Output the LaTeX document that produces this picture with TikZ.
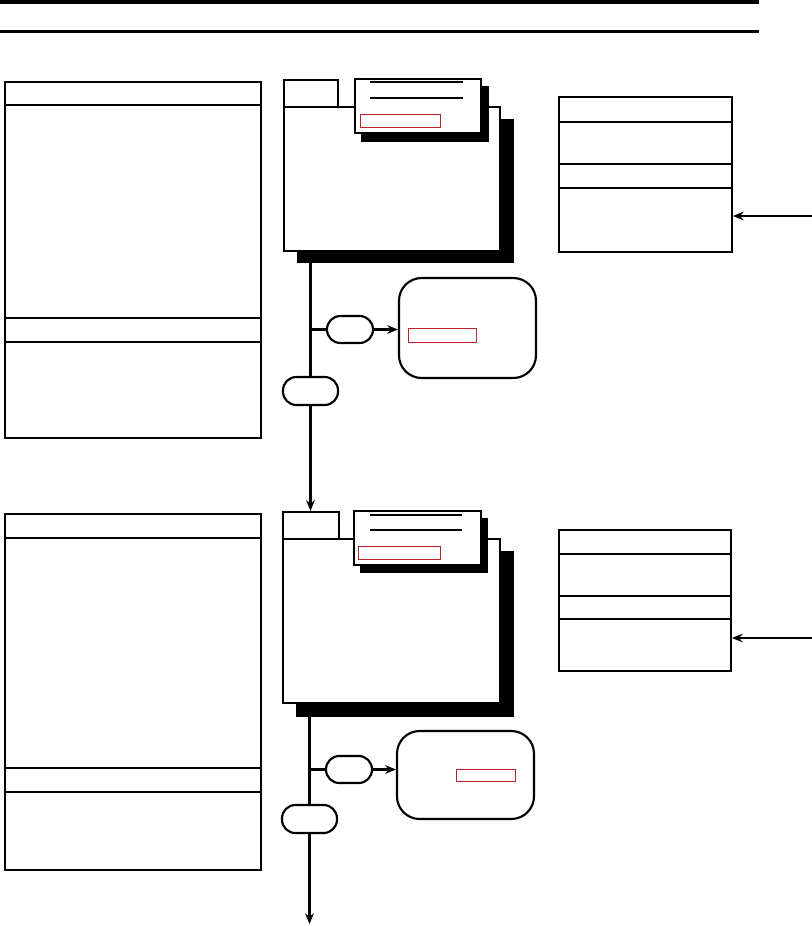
\documentclass[tikz,border=0pt]{standalone}
\usetikzlibrary{arrows.meta,positioning,fit}
\definecolor{ink}{HTML}{000000}
\definecolor{redmk}{HTML}{C0202A}
\tikzset{
  boxline/.style={draw=ink,line width=1.5pt},
  rulebar/.style={draw=ink,line width=2.6pt},
  drop/.style={fill=ink,inner sep=0pt},
  card/.style={draw=ink,fill=white,line width=1.6pt,inner sep=0pt},
  pill/.style={draw=ink,line width=1.6pt,rounded corners=10pt,inner sep=0pt},
  rbox/.style={draw=ink,line width=1.6pt,rounded corners=17pt,inner sep=0pt},
  redbox/.style={draw=redmk,line width=0.7pt},
  stem/.style={ink,line width=1.9pt},
  flow/.style={ink,line width=1.9pt,-{Stealth[length=8pt,width=6.5pt]}},
}
\begin{document}
\begin{tikzpicture}[x=0.75pt,y=-0.75pt]
  \useasboundingbox (0,0) rectangle (812,926);
  % ---------- header rules ----------
  \draw[rulebar] (0,2) -- (759,2);
  \draw[rulebar] (0,31.5) -- (759,31.5);

  % ---------- stage 1 ----------
  \begin{scope}
    % left sheet
    \draw[boxline] (5,82) rectangle (261,438);
    \foreach \y in {105,318,342} \draw[boxline] (5,\y) -- (261,\y);
    % folder
    \node[drop,fit={(297,119)(514,263)}] (sh1) {};
    \node[card,fit={(284,107)(500,251)}] (fb1) {};
    \node[card,fit={(284,80)(338,107)}] (tab1) {};
    \node[drop,fit={(361,86)(489,142)}] (csh1) {};
    \node[card,fit={(355,79)(481,133)}] (cd1) {};
    \draw[stem] (370,82) -- (463,82);
    \draw[stem] (370,98) -- (463,98);
    \draw[redbox] (360,114) rectangle (440,127);
    % branch
    \node[pill,fit={(327,316)(373,343)}] (pa1) {};
    \node[rbox,fit={(399,278)(536,378)}] (rb1) {};
    \draw[redbox] (408,328) rectangle (476,342);
    \node[pill,fit={(283,377)(338,405)}] (pb1) {};
    \coordinate (br1) at (pb1.north |- pa1.west);
    \draw[stem] (pb1.north |- sh1.south) -- (pb1.north);
    \draw[stem] (br1) -- (pa1.west);
    \draw[flow] (pa1.east) -- (pa1.east -| rb1.west);
    % right sheet
    \node[boxline,inner sep=0pt,fit={(559,97)(732,252)}] (rt1) {};
    \foreach \y in {122,164,188} \draw[boxline] (559,\y) -- (732,\y);
    \coordinate (in1) at (812,216);
    \draw[flow] (in1) -- (in1 -| rt1.east);
  \end{scope}

  % ---------- stage 2 ----------
  \begin{scope}
    % left sheet
    \draw[boxline] (5,514) rectangle (261,870);
    \foreach \y in {538,768,792} \draw[boxline] (5,\y) -- (261,\y);
    % folder
    \node[drop,fit={(296,551)(514,717)}] (sh2) {};
    \node[card,fit={(283,539)(500,703)}] (fb2) {};
    \node[card,fit={(283,512)(339,539)}] (tab2) {};
    \node[drop,fit={(360,518)(488,573)}] (csh2) {};
    \node[card,fit={(354,511)(481,565)}] (cd2) {};
    \draw[stem] (370,515) -- (462,515);
    \draw[stem] (370,530) -- (462,530);
    \draw[redbox] (358,546) rectangle (440,559);
    % branch
    \node[pill,fit={(326,756)(372,783)}] (pa2) {};
    \node[rbox,fit={(397,731)(534,819)}] (rb2) {};
    \draw[redbox] (456,769) rectangle (515,781);
    \node[pill,fit={(282,805)(337,833)}] (pb2) {};
    \coordinate (br2) at (pb2.north |- pa2.west);
    \coordinate (out2) at (309.5,924);
    \draw[stem] (pb2.north |- sh2.south) -- (pb2.north);
    \draw[stem] (br2) -- (pa2.west);
    \draw[flow] (pa2.east) -- (pa2.east -| rb2.west);
    \draw[flow] (pb2.south) -- (out2);
    % right sheet
    \node[boxline,inner sep=0pt,fit={(559,530)(731,671)}] (rt2) {};
    \foreach \y in {554,596,619} \draw[boxline] (559,\y) -- (731,\y);
    \coordinate (in2) at (812,638);
    \draw[flow] (in2) -- (in2 -| rt2.east);
  \end{scope}

  % stage 1 feeds stage 2
  \draw[flow] (pb1.south) -- (pb1.south |- tab2.north);
\end{tikzpicture}
\end{document}
